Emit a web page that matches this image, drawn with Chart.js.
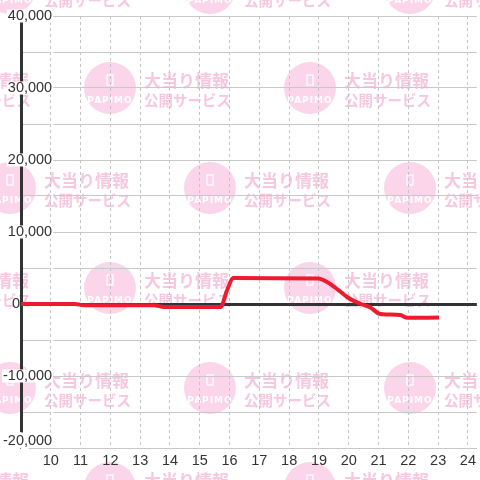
<!DOCTYPE html>
<html>
<head>
<meta charset="utf-8">
<script src="https://cdn.jsdelivr.net/npm/chart.js@4/dist/chart.umd.min.js"></script>
<style>
  html, body { margin: 0; padding: 0; background: #fff; }
  #wrap { width: 480px; height: 480px; }
</style>
</head>
<body>
<div id="wrap"><canvas id="slumpChart"></canvas></div>
<script>
// time of day (hours) and running balance
const hours = [9.0, 10.8, 11.13, 13.47, 13.8, 15.7, 15.9, 16.13, 18.97, 19.3, 19.63, 19.97, 20.37, 20.73, 21.03, 21.3, 21.73, 21.97, 23.03];
const balance = [0, 0, -170, -170, -420, -420, 1740, 3600, 3550, 2990, 2010, 900, 70, -490, -1360, -1460, -1530, -1920, -1880];

const yMin = -20000, yMax = 40000, yStep = 5000, yLabelStep = 10000;
const xMin = 9, xMax = 24.3, xFirstLabel = 10;

const points = hours.map(function(h, i) { return { x: h, y: balance[i] }; });

// PAPIMO background stamp
const watermark = {
    id: 'watermark',
    beforeDraw(chart) {
        const ctx = chart.ctx;
        ctx.save();
        ctx.fillStyle = '#fff';
        ctx.fillRect(0, 0, chart.width, chart.height);
        for (let row = 0; row < 6; row++) {
            const cy = -12 + row * 100;
            const start = row % 2 === 0 ? 10 : 110;
            for (let cx = start - 200; cx < 600; cx += 200) {
                ctx.fillStyle = '#fbd6ea';
                ctx.beginPath();
                ctx.arc(cx, cy, 26, 0, Math.PI * 2);
                ctx.fill();
                // phone icon
                ctx.strokeStyle = '#fff';
                ctx.lineWidth = 1.2;
                ctx.strokeRect(cx - 3, cy - 13, 6, 10);
                ctx.fillStyle = '#fff';
                ctx.font = 'bold 9px "DejaVu Sans"';
                ctx.textAlign = 'center';
                ctx.textBaseline = 'middle';
                ctx.letterSpacing = '1px';
                ctx.fillText('PAPIMO', cx, cy + 13);
                ctx.letterSpacing = '0px';
                ctx.fillStyle = '#f6c8e0';
                ctx.textAlign = 'left';
                ctx.font = 'bold 17px "Noto Sans CJK JP"';
                ctx.fillText('大当り情報', cx + 34, cy - 7);
                ctx.font = 'bold 14.5px "Noto Sans CJK JP"';
                ctx.fillText('公開サービス', cx + 34, cy + 12);
            }
        }
        ctx.restore();
    }
};

function isBottom(c) { return c.tick && c.tick.value === yMin; }

const ctx = document.getElementById('slumpChart').getContext('2d');
const slumpChart = new Chart(ctx, {
    type: 'line',
    data: {
        datasets: [{
            data: points,
            borderColor: '#ec1c2e',
            borderWidth: 4,
            pointRadius: 0,
            cubicInterpolationMode: 'monotone',
            fill: false
        }]
    },
    options: {
        responsive: true,
        maintainAspectRatio: false,
        animation: false,
        layout: { padding: { top: 16, left: 0, right: 0, bottom: 0 } },
        plugins: {
            legend: { display: false },
            tooltip: { enabled: false }
        },
        scales: {
            x: {
                type: 'linear',
                min: xMin,
                max: xMax,
                afterFit: function(scale) { scale.height = 32; },
                grid: { color: '#c4c4c4', lineWidth: 1, drawTicks: false },
                border: { color: '#c8c8c8', width: 1, dash: [3, 3] },
                ticks: {
                    stepSize: 1,
                    includeBounds: false,
                    autoSkip: false,
                    maxRotation: 0,
                    padding: 4,
                    color: '#333',
                    font: { family: '"Liberation Sans", Arial', size: 14.5 },
                    callback: function(v) { return v >= xFirstLabel ? String(v) : ''; }
                }
            },
            y: {
                min: yMin,
                max: yMax,
                afterFit: function(scale) { scale.width = 21; },
                grid: {
                    drawTicks: false,
                    color: function(c) { return c.tick && c.tick.value === 0 ? '#333' : '#c8c8c8'; },
                    lineWidth: function(c) { return c.tick && c.tick.value === 0 ? 3 : 1; }
                },
                border: { color: '#333', width: 3 },
                ticks: {
                    stepSize: yStep,
                    autoSkip: false,
                    mirror: true,
                    crossAlign: 'far',
                    padding: -18,
                    color: '#333',
                    font: { family: '"Liberation Sans", Arial', size: 14.5, lineHeight: 0.9 },
                    showLabelBackdrop: true,
                    backdropPadding: { top: 0, bottom: 0, left: 1, right: 1 },
                    backdropColor: function(c) {
                        if (c.tick && (c.tick.value === 0 || c.tick.value === yMin)) return 'rgba(0,0,0,0)';
                        return '#fff';
                    },
                    // bottom label sits half a line higher, with a white halo instead of a box
                    textStrokeColor: function(c) { return isBottom(c) ? '#fff' : ''; },
                    textStrokeWidth: function(c) { return isBottom(c) ? 6 : 0; },
                    callback: function(v) {
                        if (v % yLabelStep !== 0) return '';
                        if (v === 0) return '0' + ' '.repeat(8);
                        if (v === yMin) return [v.toLocaleString('en-US'), ''];
                        return v.toLocaleString('en-US');
                    }
                }
            }
        }
    },
    plugins: [watermark]
});
</script>
</body>
</html>
